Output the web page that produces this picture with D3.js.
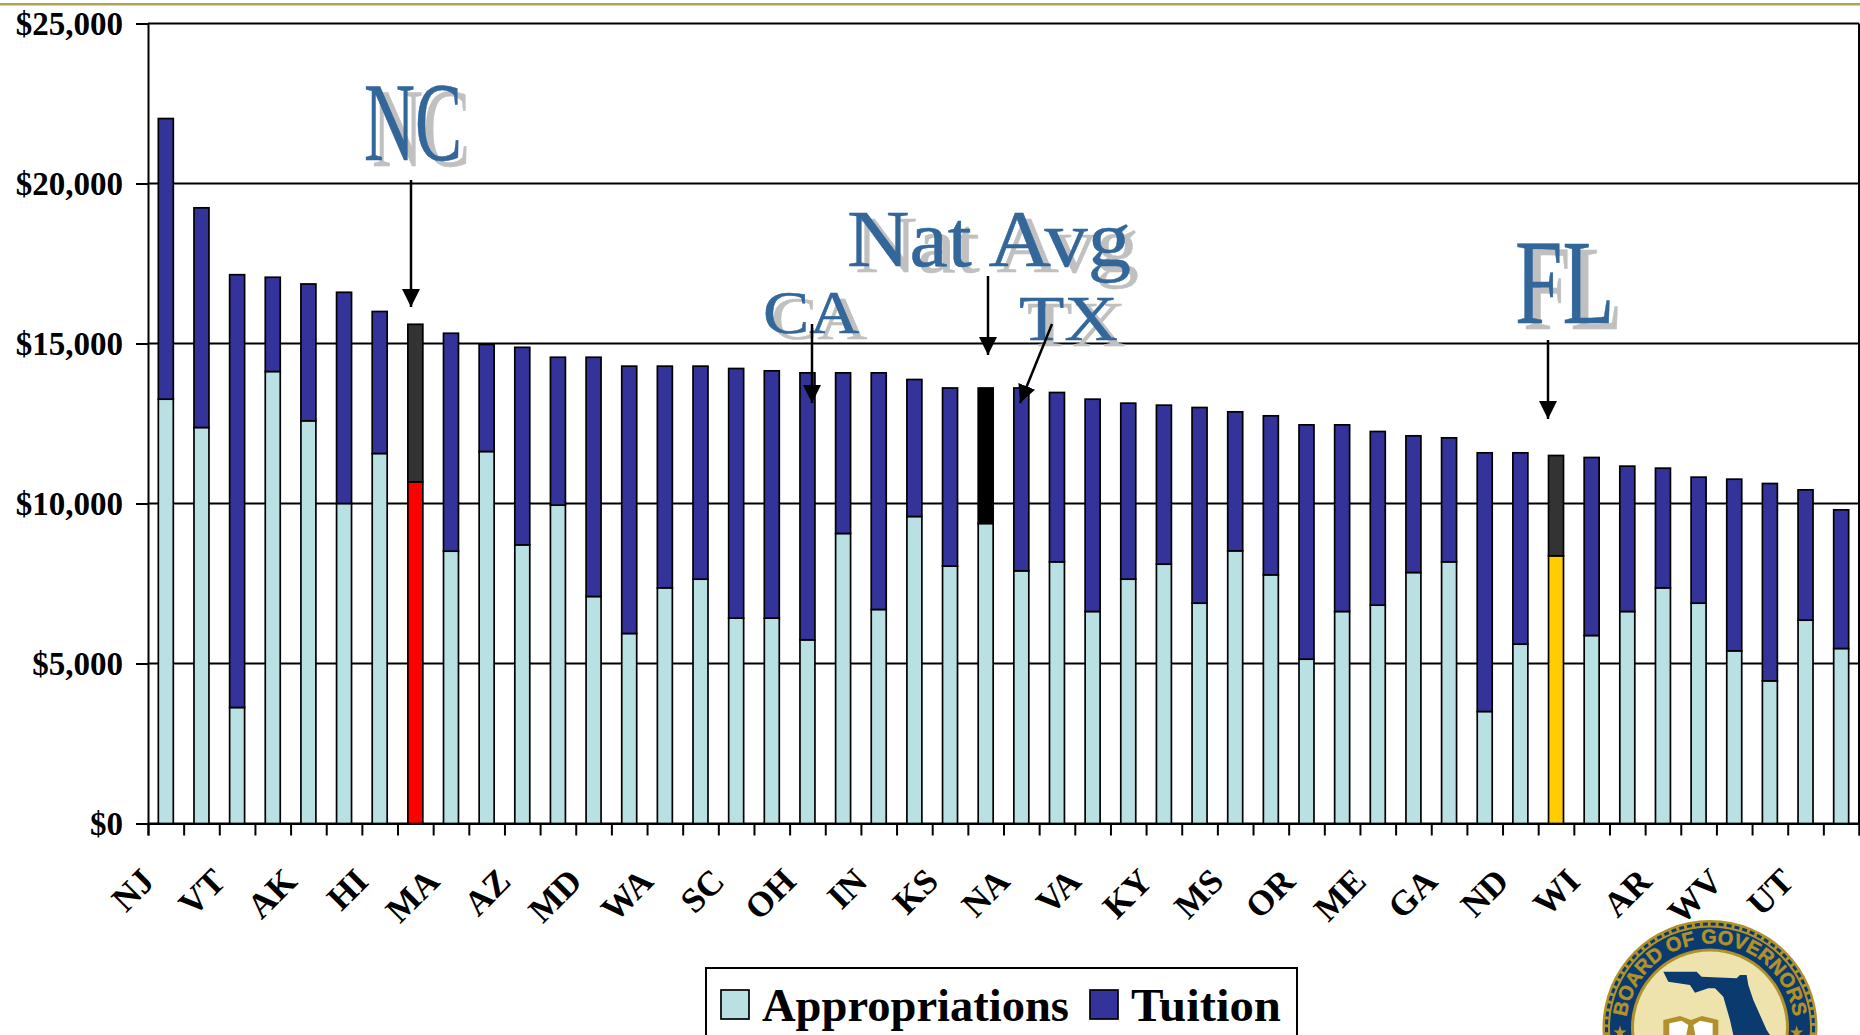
<!DOCTYPE html>
<html>
<head>
<meta charset="utf-8">
<script src="https://d3js.org/d3.v7.min.js"></script>
<style>
  html, body { margin: 0; padding: 0; background: #fff; overflow: hidden; }
  svg { display: block; }
  text { font-family: "Liberation Serif", serif; }
</style>
</head>
<body>
<svg id="chart" width="1860" height="1035"></svg>
<script>
// Values, one entry per bar, left to right
var appropriations = [13260, 12375, 3625, 14125, 12585, 10000, 11563, 10677, 8510, 11625, 8708, 9948,
  7094, 5938, 7365, 7635, 6417, 6417, 5740, 9063, 6688, 9594, 8042, 9375,
  7896, 8177, 6625, 7635, 8104, 6885, 8521, 7771, 5135, 6625, 6823, 7844,
  8177, 3500, 5604, 8365, 5875, 6625, 7365, 6885, 5396, 4458, 6354, 5469];
var tuition = [8770, 6865, 13525, 2945, 4275, 6600, 4437, 4923, 6810, 3345, 6172, 4622,
  7476, 8354, 6927, 6657, 7802, 7729, 8343, 5020, 7395, 4281, 5568, 4235,
  5714, 5292, 6635, 5500, 4969, 6115, 4344, 4969, 7323, 5833, 5427, 4271,
  3875, 8084, 5980, 3135, 5563, 4542, 3739, 3938, 5364, 6167, 4073, 4333];
// Only every second bar has a label
var tickLabels = ["NJ", "VT", "AK", "HI", "MA", "AZ", "MD", "WA", "SC", "OH", "IN", "KS",
  "NA", "VA", "KY", "MS", "OR", "ME", "GA", "ND", "WI", "AR", "WV", "UT"];
var yTicks = [0, 5000, 10000, 15000, 20000, 25000];
var seriesNames = ["Appropriations", "Tuition"];

var lightBlue = "#b9e0e3", navy = "#333399", calloutBlue = "#336699", shadowGray = "#c0c0c0";
// Bars with their own colours: index -> [appropriations, tuition]
var specialBars = { 7: ["#ff0000", "#333333"], 23: [lightBlue, "#000000"], 39: ["#ffcc00", "#333333"] };

var svg = d3.select("#chart"),
  plotLeft = 148, plotRight = 1859, plotTop = 23.5, plotBottom = 823.5;

var x = d3.scaleBand().domain(d3.range(appropriations.length)).range([plotLeft, plotRight]).paddingInner(0.58).paddingOuter(0.29),
  xEdge = d3.scaleLinear().domain([0, appropriations.length]).range([plotLeft, plotRight]),
  y = d3.scaleLinear().domain([0, 25000]).range([plotBottom, plotTop]);

// Rule along the top of the slide
svg.append("rect").attr("x", 0).attr("y", 3).attr("width", 1860).attr("height", 2.5).attr("fill", "#b3a34b");

// Gridlines and frame
svg.append("g").selectAll("line").data(yTicks).join("line")
  .attr("x1", plotLeft).attr("x2", plotRight)
  .attr("y1", d => y(d)).attr("y2", d => y(d))
  .attr("stroke", "#000").attr("stroke-width", 2);
svg.append("line").attr("x1", plotRight).attr("x2", plotRight).attr("y1", plotTop).attr("y2", plotBottom)
  .attr("stroke", "#000").attr("stroke-width", 2);

// Bars
var barGroup = svg.append("g");
appropriations.forEach(function (a, i) {
  var colors = specialBars[i] || [lightBlue, navy];
  var t = tuition[i];
  barGroup.append("rect")
    .attr("x", x(i)).attr("width", x.bandwidth())
    .attr("y", y(a)).attr("height", y(0) - y(a))
    .attr("fill", colors[0]).attr("stroke", "#000").attr("stroke-width", 1.7);
  barGroup.append("rect")
    .attr("x", x(i)).attr("width", x.bandwidth())
    .attr("y", y(a + t)).attr("height", y(a) - y(a + t))
    .attr("fill", colors[1]).attr("stroke", "#000").attr("stroke-width", 1.7);
});

// Axes
var yAxis = svg.append("g").attr("transform", "translate(" + plotLeft + ",0)")
  .call(d3.axisLeft(y).tickValues(yTicks).tickSize(12).tickPadding(13)
    .tickFormat(d => "$" + d3.format(",")(d)));
yAxis.selectAll("line, path").attr("stroke", "#000").attr("stroke-width", 2);
yAxis.selectAll("text").attr("font-size", 33).attr("font-weight", "bold").attr("fill", "#000")
  .attr("font-family", "Liberation Serif");

var xAxis = svg.append("g").attr("transform", "translate(0," + plotBottom + ")")
  .call(d3.axisBottom(xEdge).tickValues(d3.range(appropriations.length + 1)).tickSize(12).tickFormat(""));
xAxis.selectAll("line, path").attr("stroke", "#000").attr("stroke-width", 2);

svg.append("g").selectAll("text").data(tickLabels).join("text")
  .attr("transform", (d, i) => "translate(" + (x(i * 2) + x.bandwidth() / 2 - 27) + ",866) rotate(-45)")
  .attr("text-anchor", "end").attr("dy", "0.7em")
  .attr("font-size", 35).attr("font-weight", "bold").attr("fill", "#000")
  .text(d => d);

// Callouts: big label with a drop shadow, then an arrow
var callouts = [
  { text: "NC", x: 364, y: 160, size: 112, sx: 0.63 },
  { text: "Nat Avg", x: 847, y: 266, size: 80, sx: 1.08 },
  { text: "CA", x: 763, y: 333, size: 62, sx: 1.12 },
  { text: "TX", x: 1019, y: 340, size: 64, sx: 1.16 },
  { text: "FL", x: 1515, y: 323, size: 120, sx: 0.71 }
];
var arrows = [[411, 180, 411, 307], [988, 276, 988, 355], [812, 324, 812, 403], [1052, 324, 1020, 403], [1548, 340, 1548, 419]];

callouts.forEach(function (c) {
  [[shadowGray, 8, 6], [calloutBlue, 0, 0]].forEach(function (layer) {
    svg.append("text")
      .attr("transform", "translate(" + (c.x + layer[1]) + "," + (c.y + layer[2]) + ") scale(" + c.sx + ",1)")
      .attr("font-size", c.size).attr("fill", layer[0])
      .attr("stroke", layer[0]).attr("stroke-width", 0.5)
      .text(c.text);
  });
});

svg.append("defs").append("marker").attr("id", "head")
  .attr("markerUnits", "userSpaceOnUse").attr("markerWidth", 18).attr("markerHeight", 18)
  .attr("viewBox", "0 0 16 16").attr("refX", 16).attr("refY", 8).attr("orient", "auto")
  .append("path").attr("d", "M0,0L16,8L0,16Z").attr("fill", "#000");
svg.append("g").selectAll("line").data(arrows).join("line")
  .attr("x1", d => d[0]).attr("y1", d => d[1]).attr("x2", d => d[2]).attr("y2", d => d[3])
  .attr("stroke", "#000").attr("stroke-width", 2.5).attr("marker-end", "url(#head)");

// Legend, runs off the bottom of the page
var legend = svg.append("g");
legend.append("rect").attr("x", 706).attr("y", 968).attr("width", 591).attr("height", 90)
  .attr("fill", "#fff").attr("stroke", "#000").attr("stroke-width", 2);
var legendX = [721, 1090], legendTextWidth = [307, 150];
seriesNames.forEach(function (name, i) {
  legend.append("rect").attr("x", legendX[i]).attr("y", 990).attr("width", 28).attr("height", 29)
    .attr("fill", i == 0 ? lightBlue : navy).attr("stroke", "#000").attr("stroke-width", 1.7);
  legend.append("text").attr("x", legendX[i] + 41).attr("y", 1021)
    .attr("font-size", 46).attr("font-weight", "bold").attr("fill", "#000")
    .attr("textLength", legendTextWidth[i]).attr("lengthAdjust", "spacingAndGlyphs")
    .text(name);
});

// Board of Governors seal
var seal = svg.append("g").attr("transform", "translate(1710,1027.5)");
var sealGold = "#b0912a", sealNavy = "#0b3a6e", sealCream = "#efe3ad";
seal.append("circle").attr("r", 107.5).attr("fill", sealGold);
seal.append("circle").attr("r", 103.5).attr("fill", "none").attr("stroke", sealNavy)
  .attr("stroke-width", 3).attr("stroke-dasharray", "5 3");
seal.append("circle").attr("r", 100).attr("fill", sealNavy);
seal.append("circle").attr("r", 79).attr("fill", sealGold);
seal.append("circle").attr("r", 76).attr("fill", sealCream);
svg.select("defs").append("path").attr("id", "sealArc")
  .attr("d", "M-84,0A84,84 0 0 1 84,0");
seal.append("text").attr("font-size", 20).attr("font-weight", "bold").attr("fill", sealGold)
  .attr("stroke", sealGold).attr("stroke-width", 0.5)
  .style("font-family", "Liberation Sans")
  .append("textPath").attr("href", "#sealArc").attr("startOffset", "50%").attr("text-anchor", "middle")
  .text("BOARD OF GOVERNORS");

var sealArt = svg.append("g").attr("transform", "translate(1580,910) scale(0.3333)");
sealArt.append("path").attr("fill", sealNavy)
  .attr("d", "M250,185L350,185L365,200L470,205L480,195L500,195L505,225L520,270L560,360L600,420L470,420L450,330L430,260L405,235L385,235L345,248L330,225L265,215Z");
sealArt.append("path").attr("fill", sealGold)
  .attr("d", "M250,330L300,318L333,330L366,318L415,330L415,420L250,420Z");
sealArt.append("path").attr("fill", "#fff")
  .attr("d", "M268,340L305,332L325,345L310,420L268,420ZM398,340L360,332L340,345L355,420L398,420Z");
[[120, 368], [650, 368]].forEach(function (p) {
  sealArt.append("path").attr("fill", sealGold)
    .attr("transform", "translate(" + p[0] + "," + p[1] + ")")
    .attr("d", d3.symbol().type(d3.symbolStar).size(500)());
});
</script>
</body>
</html>
